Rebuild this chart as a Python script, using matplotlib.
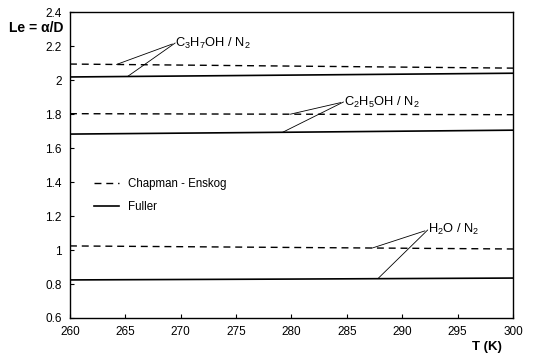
import matplotlib
matplotlib.use("Agg")
import matplotlib.pyplot as plt
from matplotlib.ticker import FuncFormatter
import numpy as np

plt.rcParams['font.family'] = ['Liberation Sans', 'DejaVu Sans']
plt.rcParams['mathtext.fontset'] = 'custom'
plt.rcParams['mathtext.rm'] = 'Liberation Sans'
plt.rcParams['mathtext.it'] = 'Liberation Sans:italic'
plt.rcParams['mathtext.bf'] = 'Liberation Sans:bold'

# Data
T = [260, 280, 300]
ce_c3h7oh = [2.094, 2.082, 2.070]
fu_c3h7oh = [2.018, 2.029, 2.040]
ce_c2h5oh = [1.802, 1.799, 1.796]
fu_c2h5oh = [1.682, 1.693, 1.705]
ce_h2o = [1.024, 1.015, 1.006]
fu_h2o = [0.824, 0.829, 0.835]

labels = ["C$_3$H$_7$OH / N$_2$", "C$_2$H$_5$OH / N$_2$", "H$_2$O / N$_2$"]
label_pos = [(269.5, 2.218), (284.7, 1.871), (292.3, 1.118)]
leader_T = [(264.2, 265.2), (279.9, 279.2), (287.3, 287.8)]

xticks = [260, 265, 270, 275, 280, 285, 290, 295, 300]
yticks = [0.6, 0.8, 1.0, 1.2, 1.4, 1.6, 1.8, 2.0, 2.2, 2.4]

fig = plt.figure(figsize=(5.51, 3.54), dpi=100)
ax = fig.add_axes([0.127, 0.1017, 0.804, 0.8643])

dash = (5, 3.5)
pairs = [(ce_c3h7oh, fu_c3h7oh), (ce_c2h5oh, fu_c2h5oh), (ce_h2o, fu_h2o)]
for i, (ce, fu) in enumerate(pairs):
    ax.plot(T, ce, color='black', lw=1.0, linestyle=(0, dash),
            label='Chapman - Enskog' if i == 0 else None)
    ax.plot(T, fu, color='black', lw=1.2,
            label='Fuller' if i == 0 else None)

for (ce, fu), lab, (tx, ty), (t1, t2) in zip(pairs, labels, label_pos, leader_T):
    y1 = np.interp(t1, T, ce)
    y2 = np.interp(t2, T, fu)
    ax.annotate(lab, xy=(t1, y1), xytext=(tx, ty), fontsize=9.3, va='center', ha='left',
                arrowprops=dict(arrowstyle='-', lw=0.6, color='black', shrinkA=0, shrinkB=0,
                                relpos=(0, 0.5)))
    ax.annotate('', xy=(t2, y2), xytext=(tx, ty),
                arrowprops=dict(arrowstyle='-', lw=0.6, color='black', shrinkA=0, shrinkB=0))

ax.set_xlim(260, 300)
ax.set_ylim(0.6, 2.4)
ax.set_xticks(xticks)
ax.set_yticks(yticks)
ax.yaxis.set_major_formatter(FuncFormatter(lambda v, p: f"{v:g}"))
ax.tick_params(direction='in', length=3, width=0.8, labelsize=8.5, pad=6)
for s in ax.spines.values():
    s.set_linewidth(1.0)

leg = ax.legend(loc='center left', bbox_to_anchor=(0.03, 0.40), frameon=False,
                fontsize=8.3, handlelength=2.2, labelspacing=0.9)

fig.text(0.017, 0.922, "Le = α/D", fontsize=10, fontweight='bold', ha='left', va='center')
fig.text(0.857, 0.02, "T (K)", fontsize=9.5, fontweight='bold', ha='left', va='center')

fig.savefig("out.png", dpi=100)
